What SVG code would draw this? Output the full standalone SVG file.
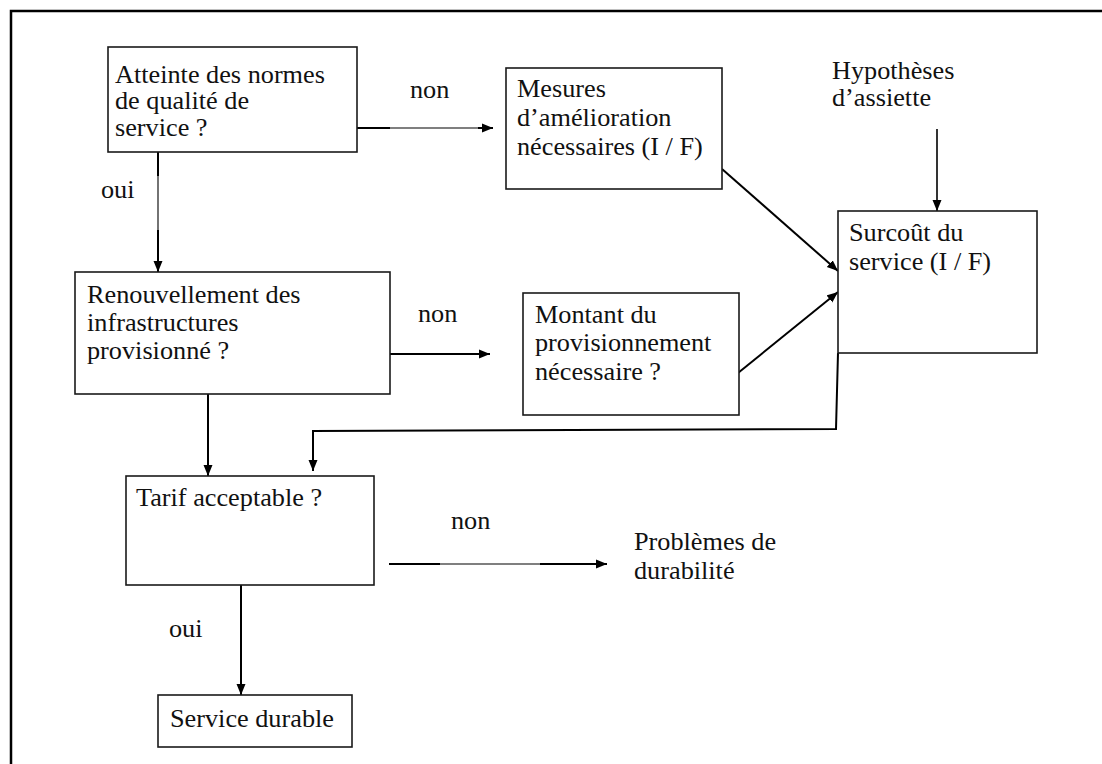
<svg xmlns="http://www.w3.org/2000/svg" width="1102" height="764" viewBox="0 0 1102 764">
  <style>
    .box { fill: #ffffff; stroke: #1a1a1a; stroke-width: 1.6; }
    .txt { font-family: "Liberation Serif", "Times New Roman", serif; font-size: 25px; fill: #111111; }
    .conn { fill: none; stroke: #000000; stroke-width: 2; }
    .thin { fill: none; stroke: #000000; stroke-width: 1.1; }
    .frame { fill: none; stroke: #000000; stroke-width: 2.5; }
  </style>
  <defs>
    <marker id="arrow" markerUnits="userSpaceOnUse" markerWidth="12" markerHeight="10" refX="11" refY="5" orient="auto">
      <path d="M0,0.5 L11,5 L0,9.5 z" fill="#000000"/>
    </marker>
  </defs>
  <rect x="0" y="0" width="1102" height="764" fill="#ffffff"/>
  <path class="frame" d="M11,764 V11 H1102"/>

  <g id="connectors">
    <path class="thin" d="M357,128 H485"/>
    <path class="conn" d="M357,128 H390"/>
    <path class="conn" d="M478,128 H493" marker-end="url(#arrow)"/>
    <path class="thin" d="M158,152 V265"/>
    <path class="conn" d="M158,152 V176"/>
    <path class="conn" d="M158,230 V272" marker-end="url(#arrow)"/>
    <path class="conn" style="stroke-width:1.6" d="M937,129 V211" marker-end="url(#arrow)"/>
    <path class="conn" d="M722,169 L838,271" marker-end="url(#arrow)"/>
    <path class="conn" d="M738,373 L838,292" marker-end="url(#arrow)"/>
    <path class="conn" d="M390,354 H490" marker-end="url(#arrow)"/>
    <path class="conn" d="M838,353 L836,429 L313,431 V471" marker-end="url(#arrow)"/>
    <path class="conn" d="M208,394 V476" marker-end="url(#arrow)"/>
    <path class="thin" d="M389,564 H600"/>
    <path class="conn" d="M389,564 H440"/>
    <path class="conn" d="M540,564 H607" marker-end="url(#arrow)"/>
    <path class="conn" d="M241,585 V695" marker-end="url(#arrow)"/>
  </g>

  <g id="labels">
    <text class="txt" transform="translate(410,98) scale(1.05,1)">non</text>
    <text class="txt" transform="translate(101,198) scale(1.05,1)">oui</text>
    <text class="txt" transform="translate(418,322) scale(1.05,1)">non</text>
    <text class="txt" transform="translate(451,529) scale(1.05,1)">non</text>
    <text class="txt" transform="translate(169,637) scale(1.05,1)">oui</text>
  </g>

  <g id="node-atteinte">
    <rect class="box" x="108" y="47" width="249" height="105"/>
    <text class="txt" transform="translate(115,83) scale(1.05,1)"><tspan x="0" y="0">Atteinte des normes</tspan><tspan x="0" y="26.5">de qualité de</tspan><tspan x="0" y="53">service ?</tspan></text>
  </g>

  <g id="node-mesures">
    <rect class="box" x="506" y="68" width="216" height="121"/>
    <text class="txt" transform="translate(517,97) scale(1.05,1)"><tspan x="0" y="0">Mesures</tspan><tspan x="0" y="29">d’amélioration</tspan><tspan x="0" y="58">nécessaires (I / F)</tspan></text>
  </g>

  <g id="node-hypotheses">
    <text class="txt" transform="translate(832,79) scale(1.05,1)"><tspan x="0" y="0">Hypothèses</tspan><tspan x="0" y="27">d’assiette</tspan></text>
  </g>

  <g id="node-surcout">
    <rect class="box" x="838" y="211" width="199" height="142"/>
    <text class="txt" transform="translate(849,241) scale(1.05,1)"><tspan x="0" y="0">Surcoût du</tspan><tspan x="0" y="29">service (I / F)</tspan></text>
  </g>

  <g id="node-renouvellement">
    <rect class="box" x="75" y="272" width="315" height="122"/>
    <text class="txt" transform="translate(87,303) scale(1.05,1)"><tspan x="0" y="0">Renouvellement des</tspan><tspan x="0" y="28">infrastructures</tspan><tspan x="0" y="56">provisionné ?</tspan></text>
  </g>

  <g id="node-montant">
    <rect class="box" x="523" y="293" width="216" height="122"/>
    <text class="txt" transform="translate(535,323) scale(1.05,1)"><tspan x="0" y="0">Montant du</tspan><tspan x="0" y="28.5">provisionnement</tspan><tspan x="0" y="57">nécessaire ?</tspan></text>
  </g>

  <g id="node-tarif">
    <rect class="box" x="126" y="476" width="248" height="109"/>
    <text class="txt" transform="translate(136,506) scale(1.05,1)">Tarif acceptable ?</text>
  </g>

  <g id="node-problemes">
    <text class="txt" transform="translate(634,550) scale(1.05,1)"><tspan x="0" y="0">Problèmes de</tspan><tspan x="0" y="29">durabilité</tspan></text>
  </g>

  <g id="node-service-durable">
    <rect class="box" x="158" y="695" width="194" height="52"/>
    <text class="txt" transform="translate(170,727) scale(1.05,1)">Service durable</text>
  </g>
</svg>
